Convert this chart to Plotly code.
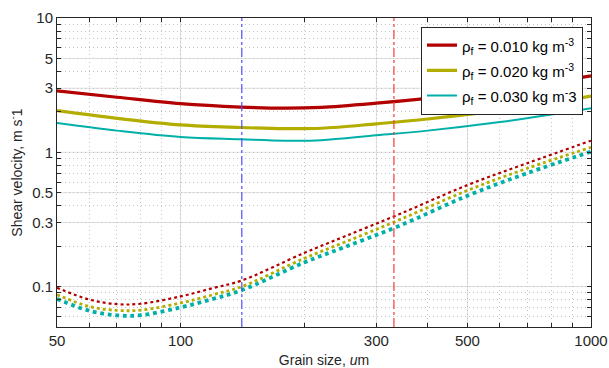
import math
import plotly.graph_objects as go

# ---- data ----
grain_solid = [50, 70, 100, 140, 180, 220, 300, 400, 600, 800, 1000]
solid_010 = [2.87, 2.57, 2.30, 2.17, 2.13, 2.16, 2.32, 2.52, 2.90, 3.32, 3.71]
solid_020 = [2.04, 1.79, 1.60, 1.53, 1.50, 1.51, 1.63, 1.77, 2.05, 2.34, 2.62]
solid_030 = [1.65, 1.45, 1.30, 1.25, 1.22, 1.23, 1.34, 1.45, 1.68, 1.91, 2.13]

grain_dot = [50, 60, 70, 80, 100, 120, 141, 200, 250, 342, 500, 700, 1000]
dot_010 = [0.098, 0.080, 0.0740, 0.0745, 0.0845, 0.0975, 0.111, 0.178, 0.235, 0.347, 0.570, 0.830, 1.22]
dot_020 = [0.087, 0.071, 0.0665, 0.0668, 0.0755, 0.0870, 0.100, 0.162, 0.213, 0.315, 0.520, 0.760, 1.09]
dot_030 = [0.081, 0.066, 0.0610, 0.0612, 0.0700, 0.0810, 0.094, 0.151, 0.196, 0.284, 0.475, 0.700, 1.01]

vlines = [141, 331]
vline_colors = ["#4f4ff5", "#f53b3b"]

labels = ["ρ<sub>f</sub> = 0.010 kg m<sup>-3</sup>",
          "ρ<sub>f</sub> = 0.020 kg m<sup>-3</sup>",
          "ρ<sub>f</sub> = 0.030 kg m<sup>-</sup>3"]
colors = ["#b30000", "#b3ad00", "#00b0a8"]

x_ticks = [50, 100, 300, 500, 1000]
x_minor = [60, 70, 80, 90, 200, 400, 600, 700, 800, 900]
y_ticks = [0.1, 0.3, 0.5, 1, 3, 5, 10]
y_ticklabels = ["0.1", "0.3", "0.5", "1", "3", "5", "10"]
y_minor = [0.06, 0.07, 0.08, 0.09, 0.2, 0.4, 0.6, 0.7, 0.8, 0.9, 2, 4, 6, 7, 8, 9]

x_range = [50, 1000]
y_range = [0.05, 10]

fig = go.Figure()

solids = [solid_010, solid_020, solid_030]
dots = [dot_010, dot_020, dot_030]
solid_w = [3.2, 3.2, 2.0]
dot_w = [2.2, 2.8, 3.8]

for i in range(3):
    fig.add_trace(go.Scatter(x=grain_solid, y=solids[i], mode="lines",
                             name="<span style='font-size:15px'>" + labels[i] + "</span>",
                             line=dict(color=colors[i], width=solid_w[i], shape="spline")))
for i in range(3):
    fig.add_trace(go.Scatter(x=grain_dot, y=dots[i], mode="lines", showlegend=False,
                             line=dict(color=colors[i], width=dot_w[i], dash="dot", shape="spline")))
for v, c in zip(vlines, vline_colors):
    fig.add_trace(go.Scatter(x=[v, v], y=y_range, mode="lines", showlegend=False,
                             line=dict(color=c, width=1.2, dash="dashdot")))

# solid major grid lines (under the data)
for v in x_ticks[1:-1]:
    fig.add_shape(type="line", xref="x", yref="paper", x0=v, x1=v, y0=0, y1=1,
                  line=dict(color="#e0e0e0", width=1), layer="below")
for v in y_ticks[:-1]:
    fig.add_shape(type="line", xref="paper", yref="y", x0=0, x1=1, y0=v, y1=v,
                  line=dict(color="#e0e0e0", width=1), layer="below")

font = "Liberation Sans, Arial, Helvetica, sans-serif"
tc = "#262626"
axis_common = dict(
    type="log", showline=True, linecolor=tc, linewidth=1, mirror="allticks",
    ticks="inside", ticklen=4, tickcolor=tc, showgrid=True, gridcolor="#c4c4c4",
    gridwidth=1, griddash="1px,3px", zeroline=False, automargin=False,
    tickfont=dict(size=15, color=tc, family=font), tickmode="array",
)

fig.update_xaxes(**axis_common, range=[math.log10(x_range[0]), math.log10(x_range[1])],
                 tickvals=x_ticks + x_minor,
                 ticktext=[str(v) for v in x_ticks] + [""] * len(x_minor),
                 ticklabeloverflow="allow",
                 title=dict(text="Grain size, <i>u</i>m", font=dict(size=14, color=tc, family=font),
                            standoff=7))
fig.update_yaxes(**axis_common, range=[math.log10(y_range[0]), math.log10(y_range[1])],
                 tickvals=y_ticks + y_minor,
                 ticktext=y_ticklabels + [""] * len(y_minor),
                 title=dict(text="Shear velocity, m s<sup>-</sup>1", font=dict(size=14, color=tc, family=font),
                            standoff=6))

fig.update_layout(
    width=609, height=368,
    margin=dict(l=57, r=18, t=18, b=41, autoexpand=False),
    paper_bgcolor="white", plot_bgcolor="white",
    font=dict(family=font, size=14, color=tc),
    legend=dict(x=0.985, y=0.972, xanchor="right", yanchor="top",
                bgcolor="white", bordercolor=tc, borderwidth=1,
                font=dict(size=17, color="#000000", family=font),
                itemwidth=30, tracegroupgap=0),
)

fig.write_html("out.html", config={"displayModeBar": False},
               post_script="document.body.style.margin='0';")
